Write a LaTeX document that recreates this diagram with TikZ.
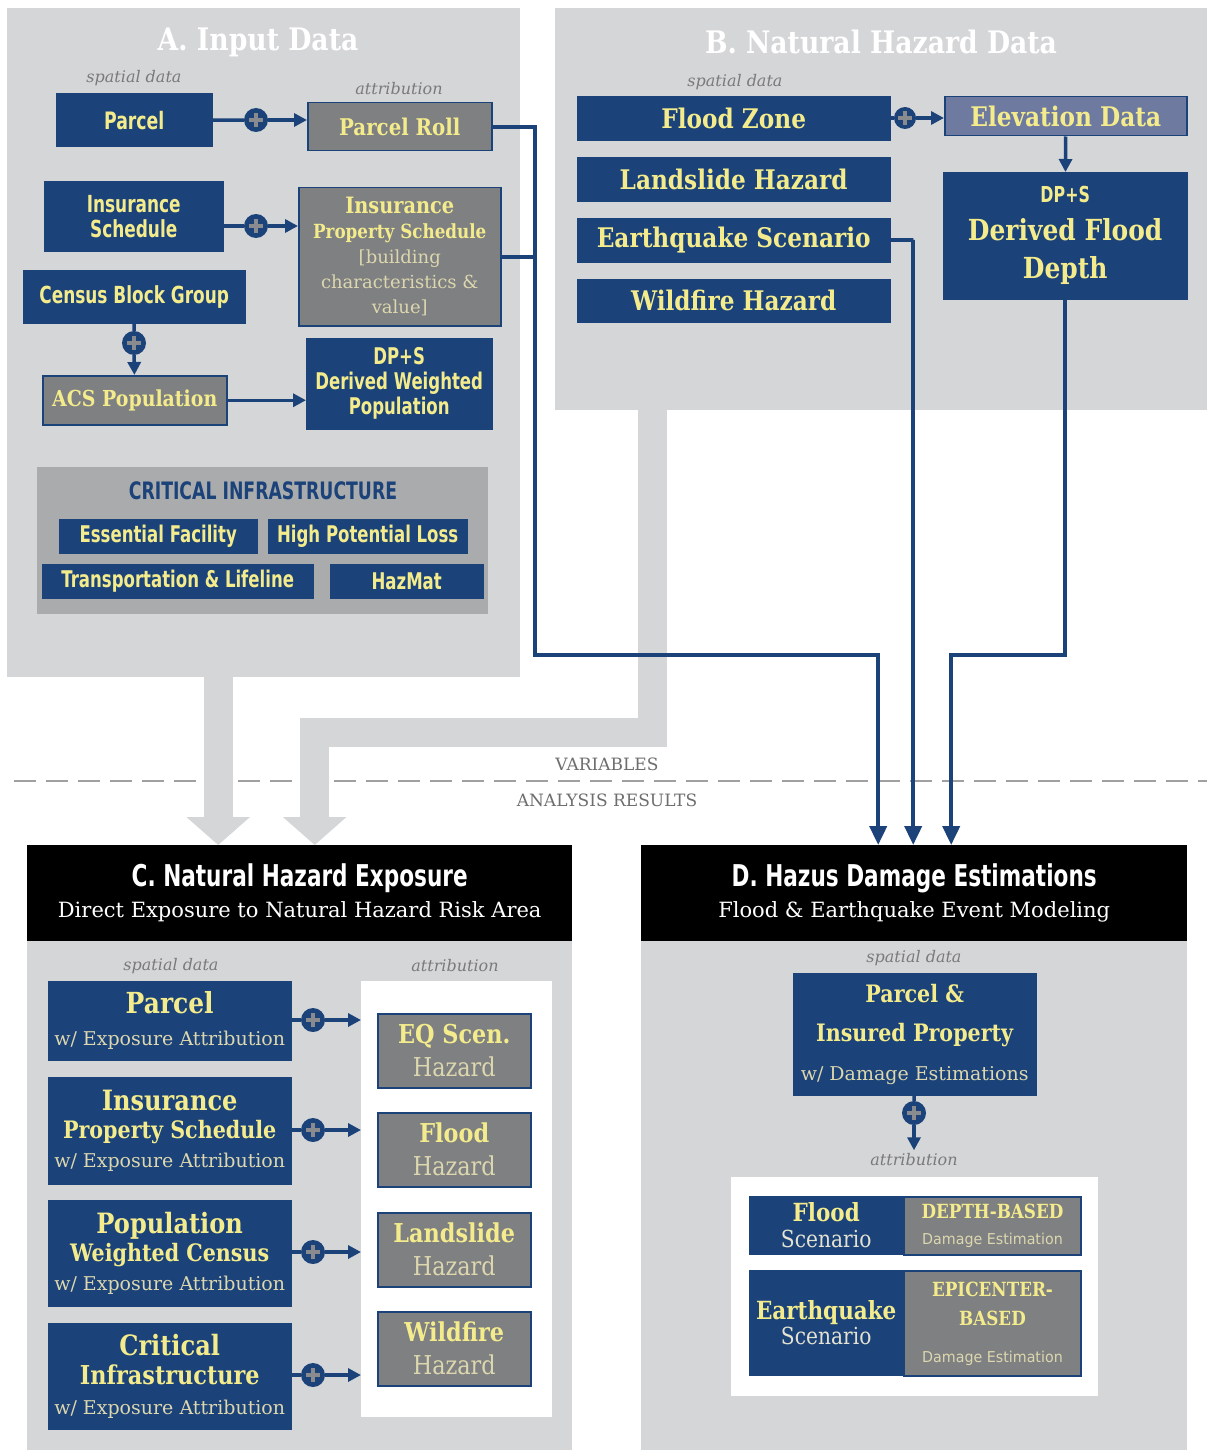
\documentclass[tikz,border=0pt]{standalone}
\usepackage{fontspec}
\setmainfont{DejaVu Serif}[FakeStretch=0.86]
\newfontfamily\wideserif{DejaVu Serif}
\newfontfamily\condfont{DejaVu Sans}[FakeStretch=0.72]
\newfontfamily\plainsans{DejaVu Sans}[FakeStretch=0.95]
\usepackage{xcolor}
\usetikzlibrary{arrows.meta,positioning,calc}
\definecolor{navy}{HTML}{1B4279}
\definecolor{panelgray}{HTML}{D5D6D8}
\definecolor{boxgray}{HTML}{7F8082}
\definecolor{cigray}{HTML}{AAABAD}
\definecolor{hiyellow}{HTML}{F4EC8C}
\definecolor{paleyellow}{HTML}{DCD7AE}
\definecolor{scenwhite}{HTML}{E4E2D2}
\definecolor{lavender}{HTML}{6F7AA0}
\definecolor{labelgray}{HTML}{7A7A7A}
\definecolor{plusgray}{HTML}{8A8B8E}
\definecolor{dashgray}{HTML}{A0A0A0}

\newcommand\fs[2]{\fontsize{#1}{#2}\selectfont}

\tikzset{
  panel/.style={fill=panelgray, anchor=north west, inner sep=0pt},
  navybox/.style={fill=navy, draw=navy, text=hiyellow, anchor=north west, align=center, inner sep=0pt},
  graybox/.style={fill=boxgray, draw=navy, line width=1.5pt, text=hiyellow, anchor=north west, align=center, inner sep=0pt},
  header/.style={fill=black, text=white, anchor=north west, align=center, inner sep=0pt, minimum height=96pt, font=\wideserif\fs{21}{31}},
  note/.style={text=labelgray, font=\wideserif\itshape\fs{16}{18}},
  divtext/.style={text=labelgray!90!black, font=\wideserif\fs{17}{17}},
  paneltitle/.style={text=white, font=\bfseries\fs{31}{31}},
  navyline/.style={draw=navy, line width=3.5pt},
  pluslink/.style={navyline, -{Triangle[length=13pt,width=13pt]}},
  link/.style={draw=navy, line width=4pt, -{Triangle[length=19pt,width=17pt]}},
  bigarrow/.style={panelgray, line width=29pt, -{Triangle[length=28pt,width=62pt]}},
  plusdot/.style={circle, fill=navy, minimum size=24pt, inner sep=0pt,
    path picture={\draw[plusgray, line width=4.5pt]
      ([xshift=-7pt]path picture bounding box.center) -- ([xshift=7pt]path picture bounding box.center)
      ([yshift=-7pt]path picture bounding box.center) -- ([yshift=7pt]path picture bounding box.center);}},
}

\begin{document}
\begin{tikzpicture}[x=1pt,y=-1pt]
  \fill[white] (0,0) rectangle (1207,1450);
  \useasboundingbox (0,0) rectangle (1207,1450);

  % panels
  \node[panel, minimum width=513pt, minimum height=669pt] (panelA) at (7,8) {};
  \node[panel, minimum width=652pt, minimum height=402pt] (panelB) at (555,8) {};
  \node[panel, minimum width=545pt, minimum height=509pt] (bodyC) at (27,941) {};
  \node[panel, minimum width=546pt, minimum height=509pt] (bodyD) at (641,941) {};

  \draw[dashgray, line width=1.2pt, dash pattern=on 22pt off 10pt] (14,781) -- (1207,781);
  \node[divtext] (varLabel) at (607,764) {VARIABLES};
  \node[divtext] (resLabel) at (607,800) {ANALYSIS RESULTS};

  \node[header, minimum width=545pt] (headC) at (27,845)
    {{\condfont\bfseries\fs{30}{31}C. Natural Hazard Exposure}\\Direct Exposure to Natural Hazard Risk Area};
  \node[header, minimum width=546pt] (headD) at (641,845)
    {{\condfont\bfseries\fs{30}{31}D. Hazus Damage Estimations}\\Flood \& Earthquake Event Modeling};

  \draw[bigarrow] ([xshift=-45.5pt]panelA.south) -- ([xshift=-81.5pt]headC.north);
  \draw[bigarrow] ([xshift=-228.5pt]panelB.south) -- ++(0,322.5) -| ([xshift=15pt]headC.north);

  % A. input data
  \node[paneltitle] (titleA) at (258,42) {A. Input Data};
  \node[note] (spatialA) at (134,78) {spatial data};
  \node[note] (attrA) at (399,89) {attribution};
  \node[navybox, minimum width=156pt, minimum height=53pt, font=\condfont\bfseries\fs{24}{27}] (parcelA) at (56,93.5) {Parcel};
  \node[graybox, minimum width=184pt, minimum height=48pt, font=\bfseries\fs{23}{25}] (rollA) at (307,102) {Parcel Roll};
  \node[navybox, minimum width=179pt, minimum height=70pt, font=\condfont\bfseries\fs{23.5}{25}] (insA) at (44,181) {Insurance\\Schedule};
  \node[graybox, minimum width=202pt, minimum height=138pt, font=\wideserif\fs{18}{25}] (ipsA) at (298,187)
    {{\normalfont\bfseries\fs{22.5}{25}Insurance}\\{\normalfont\bfseries\fs{19.5}{25}Property Schedule}\\{\color{paleyellow}[building}\\{\color{paleyellow}characteristics \&}\\{\color{paleyellow}value]}};
  \node[navybox, minimum width=222pt, minimum height=53pt, font=\condfont\bfseries\fs{23.5}{25}] (censusA) at (23,270) {Census Block Group};
  \node[graybox, minimum width=184pt, minimum height=49pt, font=\bfseries\fs{22}{25}] (acsA) at (42,375) {ACS Population};
  \node[navybox, minimum width=186pt, minimum height=91pt, font=\condfont\bfseries\fs{23}{25}] (dpsA) at (306,338) {DP+S\\Derived Weighted\\Population};

  \node[panel, fill=cigray, minimum width=451pt, minimum height=147pt] (ciPanel) at (37,467) {};
  \node[text=navy, font=\condfont\bfseries\fs{24}{25}] (ciTitle) at (263,491) {CRITICAL INFRASTRUCTURE};
  \node[navybox, minimum width=198pt, minimum height=34pt, font=\condfont\bfseries\fs{23}{24}] (essA) at (59,519) {Essential Facility};
  \node[navybox, minimum width=199pt, minimum height=34pt, font=\condfont\bfseries\fs{23}{24}] (hplA) at (268,519) {High Potential Loss};
  \node[navybox, minimum width=271pt, minimum height=34pt, font=\condfont\bfseries\fs{23}{24}] (tlA) at (42,564) {Transportation \& Lifeline};
  \node[navybox, minimum width=153pt, minimum height=34pt, font=\condfont\bfseries\fs{23}{24}] (hazmatA) at (330,564) {HazMat};

  \node[plusdot] (plusA1) at (256,120) {};
  \node[plusdot] (plusA2) at (256,226) {};
  \node[plusdot] (plusA3) at (134,343) {};
  \draw[navyline] (parcelA) -- (plusA1);
  \draw[pluslink] (plusA1) -- (plusA1 -| rollA.west);
  \draw[navyline] (insA.east |- plusA2) -- (plusA2);
  \draw[pluslink] (plusA2) -- (plusA2 -| ipsA.west);
  \draw[navyline] (censusA) -- (plusA3);
  \draw[pluslink] (plusA3) -- (acsA);
  \draw[pluslink] (acsA) -- (acsA -| dpsA.west);

  % B. natural hazard data
  \node[paneltitle] (titleB) at (881,42) {B. Natural Hazard Data};
  \node[note] (spatialB) at (735,82) {spatial data};
  \node[navybox, minimum width=313pt, minimum height=44pt, font=\bfseries\fs{27}{28}] (floodB) at (577,96) {Flood Zone};
  \node[navybox, minimum width=313pt, minimum height=44pt, font=\bfseries\fs{27}{28}] (landB) at (577,157) {Landslide Hazard};
  \node[navybox, minimum width=313pt, minimum height=44pt, font=\bfseries\fs{27}{28}] (eqB) at (577,218) {Earthquake Scenario};
  \node[navybox, minimum width=313pt, minimum height=43pt, font=\bfseries\fs{27}{28}] (wildB) at (577,279) {Wildfire Hazard};
  \node[graybox, fill=lavender, minimum width=242pt, minimum height=39pt, font=\bfseries\fs{27}{28}] (elevB) at (944,96) {Elevation Data};
  \node[navybox, minimum width=244pt, minimum height=127pt, font=\bfseries\fs{29}{38}] (depthB) at (943,172)
    {{\condfont\fs{22}{38}DP+S}\\Derived Flood\\Depth};
  \node[plusdot, minimum size=22pt] (plusB) at (905,118) {};
  \draw[navyline] (floodB.east |- plusB) -- (plusB);
  \draw[pluslink] (plusB) -- (plusB -| elevB.west);
  \draw[pluslink] (elevB) -- (depthB);

  % C. exposure
  \node[note] (spatialC) at (171,966) {spatial data};
  \node[note] (attrC) at (455,966) {attribution};
  \node[navybox, minimum width=243pt, minimum height=79pt, font=\wideserif\fs{19}{32}] (parcelC) at (48,981)
    {{\normalfont\bfseries\fs{29}{32}Parcel}\\{\color{paleyellow}w/ Exposure Attribution}};
  \node[navybox, minimum width=243pt, minimum height=107pt, font=\wideserif\fs{19}{28.5}] (insC) at (48,1077)
    {{\normalfont\bfseries\fs{28}{28}Insurance}\\{\normalfont\bfseries\fs{24}{28}Property Schedule}\\{\color{paleyellow}w/ Exposure Attribution}};
  \node[navybox, minimum width=243pt, minimum height=106pt, font=\wideserif\fs{19}{28.5}] (popC) at (48,1200)
    {{\normalfont\bfseries\fs{28}{28}Population}\\{\normalfont\bfseries\fs{24}{28}Weighted Census}\\{\color{paleyellow}w/ Exposure Attribution}};
  \node[navybox, minimum width=243pt, minimum height=106pt, font=\wideserif\fs{19}{29.5}] (ciC) at (48,1323)
    {{\normalfont\bfseries\fs{28}{28}Critical}\\{\normalfont\bfseries\fs{26}{28}Infrastructure}\\{\color{paleyellow}w/ Exposure Attribution}};
  \node[panel, fill=white, minimum width=191pt, minimum height=436pt] (whiteC) at (361,981) {};
  \node[graybox, minimum width=153pt, minimum height=74pt, font=\fs{26}{33}] (eqC) at (377,1013) {{\bfseries EQ Scen.}\\{\color{paleyellow}Hazard}};
  \node[graybox, minimum width=153pt, minimum height=74pt, font=\fs{26}{33}] (floodC) at (377,1112) {{\bfseries Flood}\\{\color{paleyellow}Hazard}};
  \node[graybox, minimum width=153pt, minimum height=74pt, font=\fs{26}{33}] (landC) at (377,1212) {{\bfseries Landslide}\\{\color{paleyellow}Hazard}};
  \node[graybox, minimum width=153pt, minimum height=74pt, font=\fs{26}{33}] (wildC) at (377,1311) {{\bfseries Wildfire}\\{\color{paleyellow}Hazard}};
  \foreach \b/\y [count=\n] in {parcelC/1020,insC/1130,popC/1252,ciC/1375} {
    \node[plusdot] (plusC\n) at (313,\y) {};
    \draw[navyline] (\b.east |- plusC\n) -- (plusC\n);
    \draw[pluslink] (plusC\n) -- (plusC\n -| whiteC.west);
  }

  % D. damage estimations
  \node[note] (spatialD) at (914,958) {spatial data};
  \node[navybox, minimum width=243pt, minimum height=122pt, font=\fs{24}{39}] (parcelD) at (793,973)
    {{\bfseries Parcel \&}\\{\bfseries Insured Property}\\{\wideserif\color{paleyellow}\fs{19}{39}w/ Damage Estimations}};
  \node[plusdot] (plusD) at (914,1113) {};
  \node[note] (attrD) at (914,1160) {attribution};
  \draw[navyline] (parcelD) -- (plusD);
  \draw[pluslink] (plusD) -- (attrD);
  \node[panel, fill=white, minimum width=367pt, minimum height=219pt] (whiteD) at (731,1177) {};
  \node[navybox, minimum width=154pt, minimum height=58pt, font=\fs{25}{26}] (floodDl) at (749,1196)
    {{\bfseries Flood}\\{\color{scenwhite}\fs{23.5}{26}Scenario}};
  \node[graybox, line width=2pt, minimum width=177pt, minimum height=58pt, font=\fs{19.5}{26}] (floodDr) at (903,1196)
    {{\bfseries DEPTH-BASED}\\{\plainsans\color{paleyellow}\fs{15}{26}Damage Estimation}};
  \node[navybox, minimum width=154pt, minimum height=105pt, font=\fs{25}{25}] (eqDl) at (749,1270)
    {{\bfseries Earthquake}\\{\color{scenwhite}\fs{23.5}{25}Scenario}};
  \node[graybox, line width=2pt, minimum width=177pt, minimum height=105pt, font=\fs{19.5}{29}] (eqDr) at (903,1270)
    {{\bfseries EPICENTER-}\\{\bfseries BASED}\\[8pt]{\plainsans\color{paleyellow}\fs{15}{26}Damage Estimation}};

  % links into D
  \coordinate (busY) at (0,655);
  \coordinate (dIn1) at ([xshift=-36pt]headD.north);
  \coordinate (dIn2) at ([xshift=-1pt]headD.north);
  \coordinate (dIn3) at ([xshift=37pt]headD.north);
  \draw[link] (rollA.east) -- ++(42,0) |- (dIn1 |- busY) -- (dIn1);
  \draw[navyline, line width=4pt] (ipsA.east) -- ++(35,0);
  \draw[link] (eqB.east) -- ++(23,0) -| (dIn2);
  \draw[link] (depthB.south) |- (dIn3 |- busY) -- (dIn3);
\end{tikzpicture}
\end{document}
